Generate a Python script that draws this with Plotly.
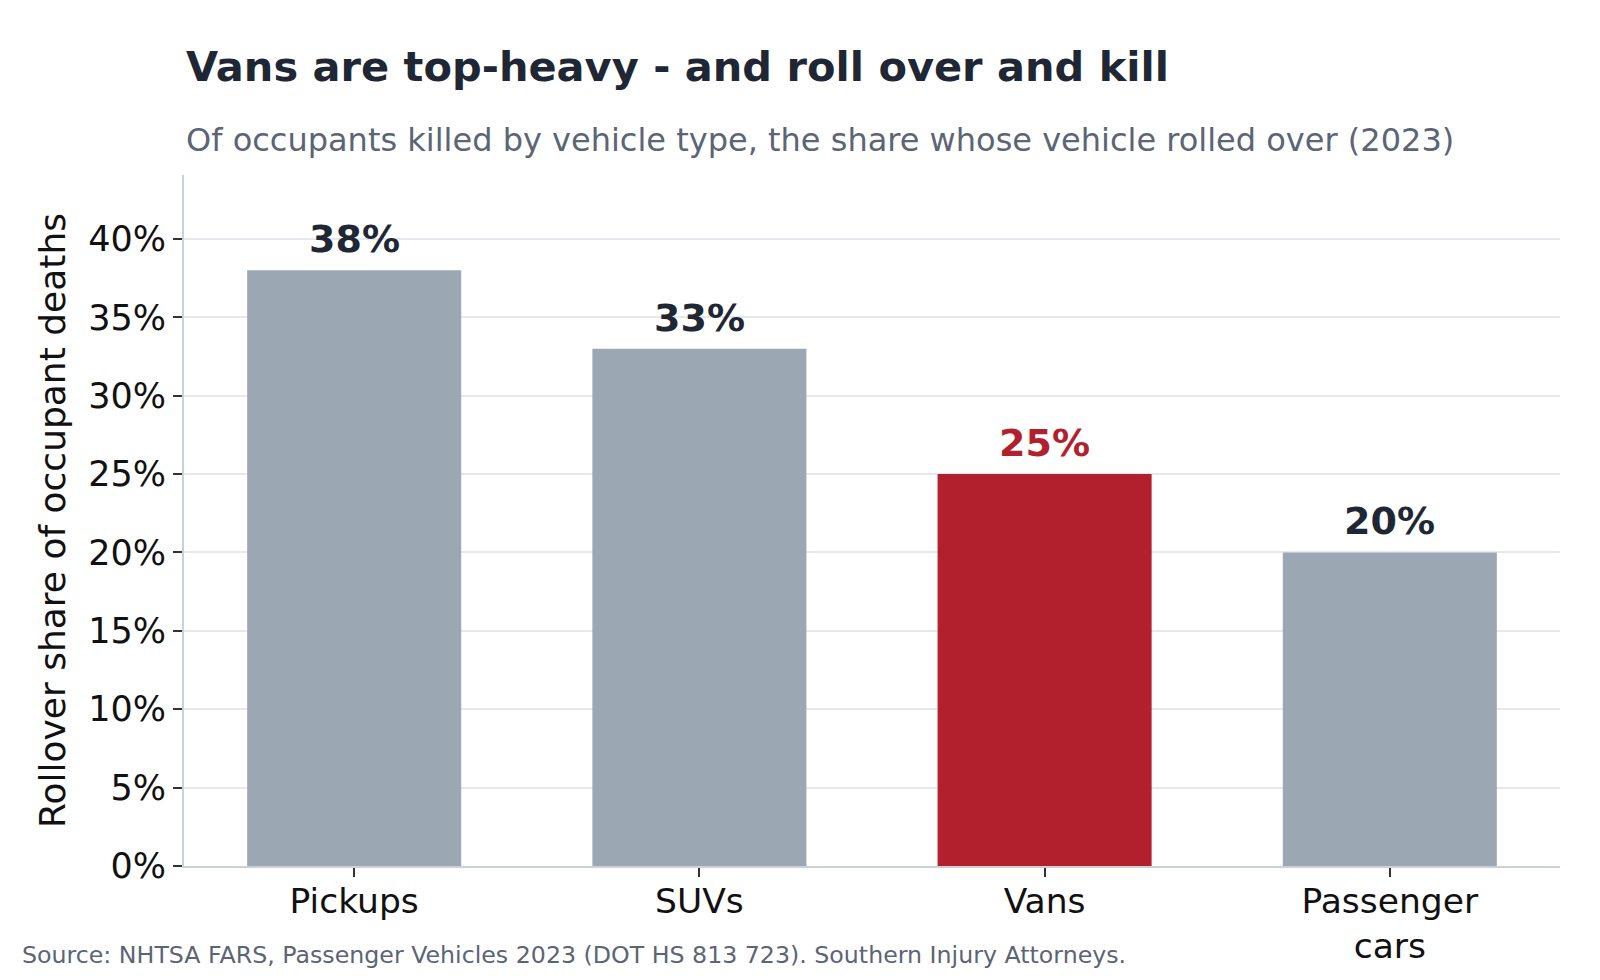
import plotly.graph_objects as go

categories = ["Pickups", "SUVs", "Vans", "Passenger<br>cars"]
rollover_share = [38, 33, 25, 20]
bar_colors = ["#9ca7b4", "#9ca7b4", "#b21f2d", "#9ca7b4"]
label_colors = ["#1e2733", "#1e2733", "#b21f2d", "#1e2733"]
y_ticks = [0, 5, 10, 15, 20, 25, 30, 35, 40]
y_tick_labels = [f"{v}%" for v in y_ticks]

FONT = "DejaVu Sans"

fig = go.Figure()
fig.add_trace(go.Bar(
    x=list(range(len(categories))),
    y=rollover_share,
    width=0.62,
    marker=dict(color=bar_colors, line=dict(width=0)),
    hoverinfo="skip",
))

for i, (v, c) in enumerate(zip(rollover_share, label_colors)):
    fig.add_annotation(x=i, y=v, text=f"<b>{v}%</b>", showarrow=False,
                       yanchor="bottom", yshift=7,
                       font=dict(family=FONT, size=38, color=c))

fig.add_annotation(xref="paper", yref="paper", x=0, y=1, xanchor="left",
                   text="<b>Vans are top-heavy - and roll over and kill</b>",
                   showarrow=False, yanchor="bottom", yshift=82,
                   font=dict(family=FONT, size=41.5, color="#1e2733"))
fig.add_annotation(xref="paper", yref="paper", x=0, y=1, xanchor="left",
                   text="Of occupants killed by vehicle type, the share whose vehicle rolled over (2023)",
                   showarrow=False, yanchor="bottom", yshift=14,
                   font=dict(family=FONT, size=32, color="#5b6575"))
fig.add_annotation(xref="paper", yref="paper",
                   x=(20 - 184) / (1560 - 184),
                   y=(866 - 955) / (866 - 175),
                   xanchor="left", yanchor="middle",
                   text="Source: NHTSA FARS, Passenger Vehicles 2023 (DOT HS 813 723). Southern Injury Attorneys.",
                   showarrow=False,
                   font=dict(family=FONT, size=23.7, color="#5b6575"))

fig.update_layout(
    width=1600, height=980,
    margin=dict(l=184, r=40, t=175, b=114),
    paper_bgcolor="white", plot_bgcolor="white",
    showlegend=False,
    font=dict(family=FONT, color="#111111"),
    xaxis=dict(
        range=[-0.493, 3.493],
        automargin=False,
        tickmode="array",
        tickvals=list(range(len(categories))),
        ticktext=categories,
        tickfont=dict(family=FONT, size=34.5, color="#111111"),
        ticks="outside", ticklen=9, tickwidth=1.5, tickcolor="#333333",
        ticklabelstandoff=-5,
        showline=True, linecolor="#cbd1da", linewidth=2,
        showgrid=False, zeroline=False,
    ),
    yaxis=dict(
        range=[0, 44.08],
        automargin=False,
        tickmode="array",
        tickvals=y_ticks,
        ticktext=y_tick_labels,
        tickfont=dict(family=FONT, size=35, color="#111111"),
        ticks="outside", ticklen=9, tickwidth=1.5, tickcolor="#333333",
        showline=True, linecolor="#cbd1da", linewidth=2,
        showgrid=True, gridcolor="#e5e9ef", gridwidth=2,
        zeroline=False,
        title=dict(text="Rollover share of occupant deaths",
                   font=dict(family=FONT, size=36, color="#111111"),
                   standoff=12),
    ),
)

fig.write_html("out.html")
